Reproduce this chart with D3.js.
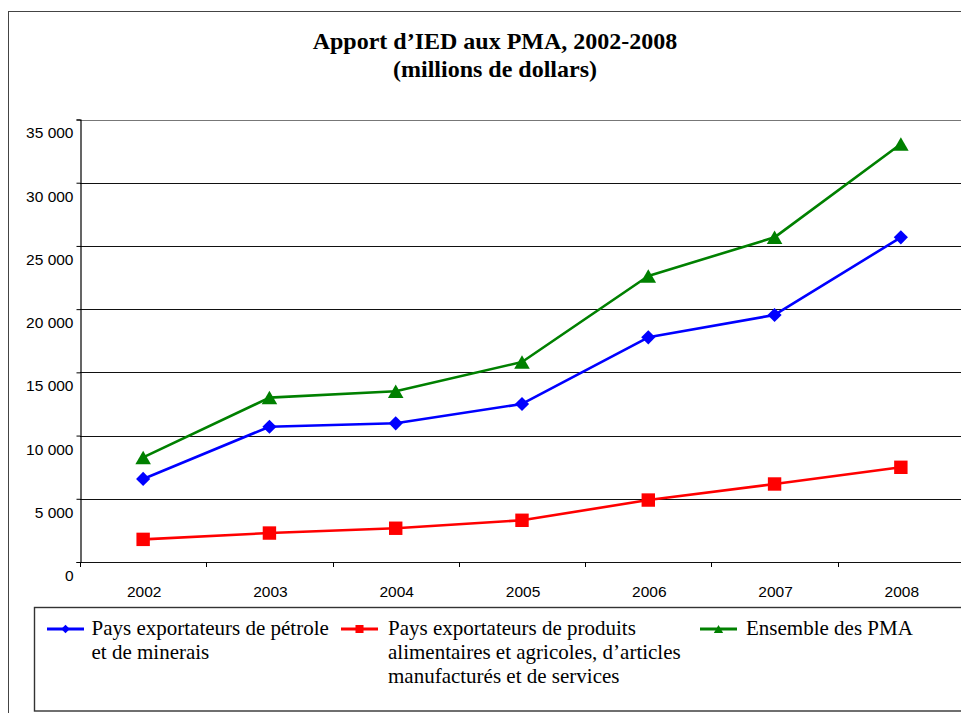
<!DOCTYPE html>
<html>
<head>
<meta charset="utf-8">
<script src="https://cdn.jsdelivr.net/npm/d3@7"></script>
<style>
  html, body { margin: 0; padding: 0; background: #fff; overflow: hidden; }
  svg { display: block; }
</style>
</head>
<body>
<svg id="chart" width="961" height="713"></svg>
<script>
// ---- DATA ----
const years = ["2002", "2003", "2004", "2005", "2006", "2007", "2008"];
const petrole = [6570, 10700, 10970, 12500, 17770, 19540, 25680];
const produits = [1790, 2290, 2670, 3300, 4900, 6170, 7490];
const ensemble = [8270, 13000, 13500, 15820, 22620, 25680, 33060];
const yTicks = [0, 5000, 10000, 15000, 20000, 25000, 30000, 35000];
const yTickLabels = ["0", "5 000", "10 000", "15 000", "20 000", "25 000", "30 000", "35 000"];
const titleLines = ["Apport d\u2019IED aux PMA, 2002-2008", "(millions de dollars)"];
const legendPetrole = ["Pays exportateurs de p\u00e9trole", "et de minerais"];
const legendProduits = ["Pays exportateurs de produits", "alimentaires et agricoles, d\u2019articles", "manufactur\u00e9s et de services"];
const legendEnsemble = ["Ensemble des PMA"];

// ---- LAYOUT ----
const svg = d3.select("#chart");
const plotL = 80, plotR = 964, plotT = 119.5, plotB = 562;

const x = d3.scaleBand().domain(years).range([plotL, plotR]).padding(0);
const y = d3.scaleLinear().domain([0, 35000]).range([plotB, plotT]);
const cx = d => x(d) + x.bandwidth() / 2;

// outer frame
svg.append("rect")
  .attr("x", 8.5).attr("y", 11.5).attr("width", 1000).attr("height", 720)
  .attr("fill", "none").attr("stroke", "#444").attr("stroke-width", 1);

// title
const title = svg.append("text")
  .attr("text-anchor", "middle")
  .attr("font-family", "'Liberation Serif', 'Times New Roman', serif")
  .attr("font-weight", "bold").attr("font-size", 24).attr("fill", "#000");
titleLines.forEach((t, i) => {
  title.append("tspan").attr("x", 495).attr("y", 48.5 + i * 28).text(t);
});

// gridlines
svg.append("g").selectAll("line").data(yTicks).join("line")
  .attr("x1", plotL).attr("x2", plotR)
  .attr("y1", d => Math.round(y(d)) + 0.5).attr("y2", d => Math.round(y(d)) + 0.5)
  .attr("stroke", d => d === 35000 ? "#777" : "#111").attr("stroke-width", 1.2);

// y axis
const yAxis = svg.append("g")
  .attr("transform", `translate(${plotL + 0.5},0)`)
  .call(d3.axisLeft(y).tickValues(yTicks).tickSize(4).tickPadding(3)
    .tickFormat((d, i) => yTickLabels[i]));
yAxis.select(".domain").attr("stroke", "#000").attr("stroke-width", 1.2);
yAxis.selectAll(".tick line").attr("stroke", "#000");
yAxis.selectAll(".tick text")
  .attr("font-family", "'Liberation Sans', Arial, sans-serif")
  .attr("font-size", 15.5).attr("fill", "#000")
  .attr("y", 13.5);

// x axis (labels)
const xAxis = svg.append("g")
  .attr("transform", `translate(1,${plotB})`)
  .call(d3.axisBottom(x).tickSize(0).tickPadding(0));
xAxis.select(".domain").remove();
xAxis.selectAll(".tick text")
  .attr("font-family", "'Liberation Sans', Arial, sans-serif")
  .attr("font-size", 15.5).attr("fill", "#000")
  .attr("y", 23.5);

// x tick marks at band boundaries
svg.append("g").selectAll("line").data(years).join("line")
  .attr("x1", d => Math.round(x(d)) + 0.5).attr("x2", d => Math.round(x(d)) + 0.5)
  .attr("y1", plotB).attr("y2", plotB + 5)
  .attr("stroke", "#000").attr("stroke-width", 1);

// series
const series = [
  { values: petrole, color: "#0000FF", shape: "diamond", legend: legendPetrole },
  { values: produits, color: "#FF0000", shape: "square", legend: legendProduits },
  { values: ensemble, color: "#008000", shape: "triangle", legend: legendEnsemble }
];

function markerPath(shape, scale) {
  if (shape === "diamond") return d3.symbol(d3.symbolSquare, 100 * scale * scale)();
  if (shape === "square") return d3.symbol(d3.symbolSquare, 180 * scale * scale)();
  return d3.symbol(d3.symbolTriangle, 105 * scale * scale)();
}
function markerTransform(shape, px, py, scale) {
  if (shape === "diamond") return `translate(${px},${py}) rotate(45)`;
  if (shape === "triangle") return `translate(${px},${py + 2.2 * scale})`;
  return `translate(${px},${py})`;
}

const line = d3.line().x(d => cx(d.year)).y(d => y(d.value));

series.forEach(s => {
  const pts = years.map((yr, i) => ({ year: yr, value: s.values[i] }));
  svg.append("path").datum(pts)
    .attr("d", line).attr("fill", "none")
    .attr("stroke", s.color).attr("stroke-width", 2.6).attr("stroke-linejoin", "round");
  svg.append("g").selectAll("path").data(pts).join("path")
    .attr("d", markerPath(s.shape, 1))
    .attr("transform", d => markerTransform(s.shape, cx(d.year), y(d.value), 1))
    .attr("fill", s.color);
});

// legend box
svg.append("rect")
  .attr("x", 34.5).attr("y", 607.5).attr("width", 1000).attr("height", 103.5)
  .attr("fill", "#fff").attr("stroke", "#333").attr("stroke-width", 1.4);

const legendX = [{ sx: 47, tx: 91.5 }, { sx: 341, tx: 388 }, { sx: 700, tx: 746 }];
series.forEach((s, i) => {
  const g = svg.append("g");
  const lx = legendX[i];
  g.append("line")
    .attr("x1", lx.sx).attr("x2", lx.sx + 37).attr("y1", 629).attr("y2", 629)
    .attr("stroke", s.color).attr("stroke-width", 3);
  g.append("path")
    .attr("d", markerPath(s.shape, 0.6))
    .attr("transform", markerTransform(s.shape, lx.sx + 18.5, 629, 0.6))
    .attr("fill", s.color);
  const t = g.append("text")
    .attr("font-family", "'Liberation Serif', 'Times New Roman', serif")
    .attr("font-size", 21).attr("fill", "#000");
  s.legend.forEach((ln, j) => {
    t.append("tspan").attr("x", lx.tx).attr("y", 635 + j * 24).text(ln);
  });
});
</script>
</body>
</html>
